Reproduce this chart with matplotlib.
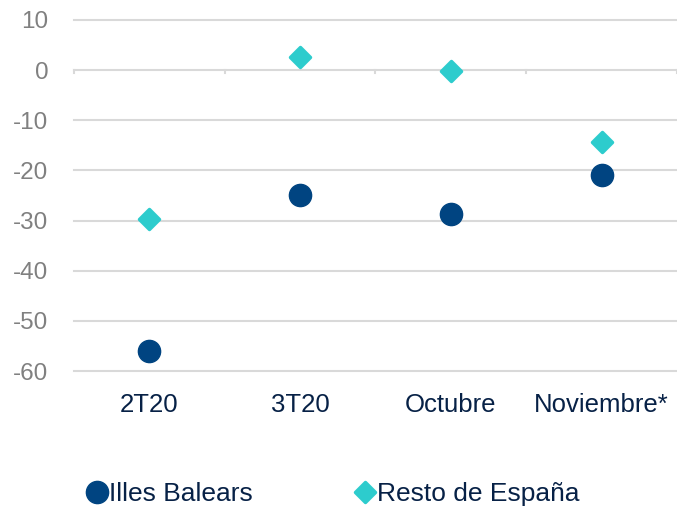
import matplotlib.pyplot as plt
from matplotlib.markers import MarkerStyle
import numpy as np

categories = ['2T20', '3T20', 'Octubre', 'Noviembre*']
illes_balears = [-56.0, -25.0, -28.7, -21.0]
resto_espana = [-29.6, 2.6, -0.2, -14.4]
y_ticks = [10, 0, -10, -20, -30, -40, -50, -60]

plt.rcParams['font.family'] = ['Liberation Sans', 'DejaVu Sans']

fig = plt.figure(figsize=(6.77, 5.07), dpi=100)
ax = fig.add_axes([0.1093, 0.2682, 0.8907, 0.6924])

x = np.arange(len(categories))
ax.set_xlim(-0.5, len(categories) - 0.5)
ax.set_ylim(-60, 10)

# gridlines
for t in y_ticks:
    ax.axhline(t, color='#d9d9d9', linewidth=1.5, zorder=1, clip_on=False)

# category separator ticks on the zero line
for b in np.arange(-0.5, len(categories) - 0.4, 1.0):
    ax.plot([b, b], [0, -0.6], color='#d9d9d9', linewidth=1.5, zorder=1, clip_on=False)

diamond = MarkerStyle('D', joinstyle='round')
ax.plot(x, illes_balears, linestyle='none', marker='o', markersize=16,
        color='#004481', label='Illes Balears', zorder=3)
ax.plot(x, resto_espana, linestyle='none', marker=diamond, markersize=10.5,
        color='#2dcccd', markeredgecolor='#2dcccd', markeredgewidth=2.5,
        label='Resto de España', zorder=3)

for s in ax.spines.values():
    s.set_visible(False)

ax.set_yticks(y_ticks)
ax.set_yticklabels([str(t) for t in y_ticks], color='#808080', fontsize=17.5)
ax.set_xticks(x)
ax.set_xticklabels(categories, color='#072146', fontsize=18.5)
ax.tick_params(axis='both', length=0)
ax.tick_params(axis='y', pad=18.5)
ax.tick_params(axis='x', pad=16)

leg = fig.legend(loc='center left', bbox_to_anchor=(0.126, 0.025), ncol=2,
                 frameon=False, fontsize=19, handletextpad=0.0,
                 columnspacing=3.8, handlelength=0.9, markerscale=1.0,
                 borderpad=0, borderaxespad=0)
for t in leg.get_texts():
    t.set_color('#072146')

fig.savefig('out.png', dpi=100)
